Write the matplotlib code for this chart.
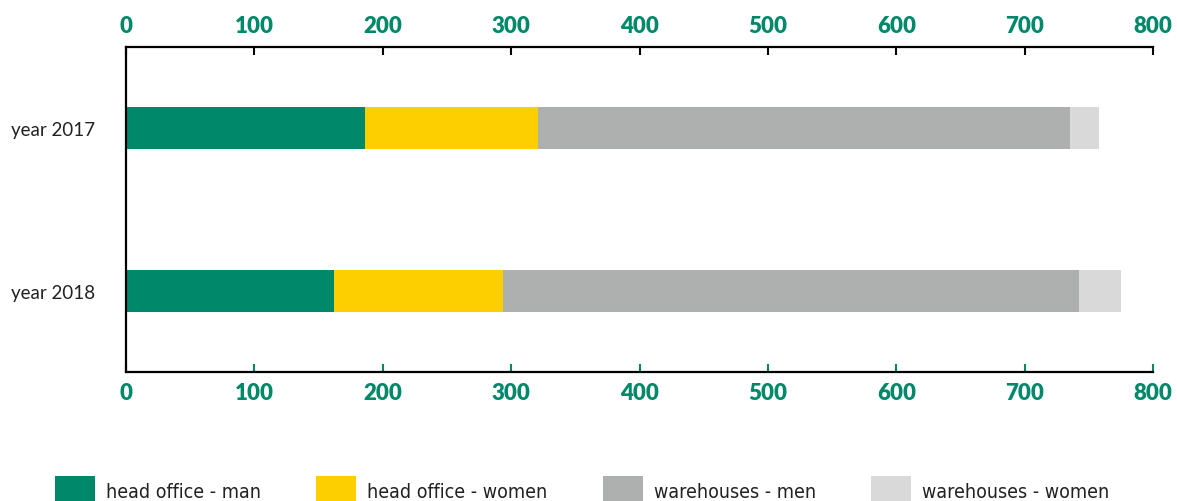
import matplotlib
matplotlib.use("Agg")
import matplotlib.pyplot as plt
import numpy as np

categories = ["year 2017", "year 2018"]
series_names = ["head office - man", "head office - women", "warehouses - men", "warehouses - women"]
head_office_man = [186, 162]
head_office_women = [135, 132]
warehouses_men = [414, 448]
warehouses_women = [23, 33]
x_ticks = [0, 100, 200, 300, 400, 500, 600, 700, 800]

colors = ["#00886A", "#FDCE00", "#AEB0AF", "#D9D9D9"]
green = "#00886A"

plt.rcParams['font.family'] = ['Lato', 'DejaVu Sans']

fig = plt.figure(figsize=(11.77, 5.02), dpi=100)
ax = fig.add_axes([126/1177, 1 - 373/502, (1153-126)/1177, (373-48)/502])

y = np.arange(len(categories))
left = np.zeros(len(categories))
handles = []
for name, vals, c in zip(series_names,
                         [head_office_man, head_office_women, warehouses_men, warehouses_women],
                         colors):
    b = ax.barh(y, vals, left=left, height=0.26, color=c, label=name)
    handles.append(b)
    left = left + np.array(vals)

ax.set_xlim(0, 800)
ax.set_ylim(1.5, -0.5)
ax.set_yticks(y)
ax.set_yticklabels(categories, fontsize=13.5, color="#222222")
ax.tick_params(axis='y', length=0, pad=22)
ax.set_xticks(x_ticks)
ax.set_xticklabels([str(t) for t in x_ticks], fontsize=16, fontweight='heavy', color=green)
ax.tick_params(axis='x', direction='in', length=6, width=1.5, color=green, pad=7)

for s in ['top', 'right']:
    ax.spines[s].set_visible(False)
for s in ['left', 'bottom']:
    ax.spines[s].set_color('black')
    ax.spines[s].set_linewidth(1.6)

sec = ax.secondary_xaxis('top')
sec.set_xticks(x_ticks)
sec.set_xticklabels([str(t) for t in x_ticks], fontsize=16, fontweight='heavy', color=green)
sec.tick_params(axis='x', direction='in', length=6, width=1.5, color='black', pad=8)
sec.spines['top'].set_color('black')
sec.spines['top'].set_linewidth(1.6)

leg = fig.legend(handles=handles, labels=series_names, ncol=4, loc='lower left',
                 bbox_to_anchor=(47/1177, -0.025), frameon=False,
                 prop={'family': 'DejaVu Sans', 'stretch': 'condensed', 'size': 14},
                 handlelength=2.05, handleheight=2.0, handletextpad=0.57,
                 columnspacing=2.85, borderaxespad=0)
for t in leg.get_texts():
    t.set_color("#222222")

fig.savefig("out.png", dpi=100)
